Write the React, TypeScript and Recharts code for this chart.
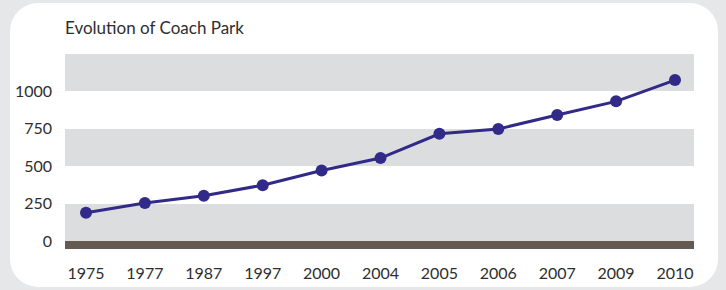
import { LineChart, Line, XAxis, YAxis, CartesianGrid } from "recharts";

const years = ["1975", "1977", "1987", "1997", "2000", "2004", "2005", "2006", "2007", "2009", "2010"];
const coaches = [189, 253, 302, 372, 470, 553, 715, 747, 840, 931, 1073];
const yTicks = [0, 250, 500, 750, 1000];
const baseLine = -53.3; // dark strip under the zero line

// stripes top -> bottom: above plot, 1250-1000, 1000-750, 750-500, 500-250, 250-0, strip below 0
const stripeColors = ["none", "#dcdddf", "none", "#dcdddf", "none", "#dcdddf", "#645a51"];

const data = years.map((year, i) => ({ year, value: coaches[i] }));

const font = "Lato, 'Open Sans', sans-serif";

export default function App() {
  return (
    <div
      style={{
        position: "absolute",
        left: 0,
        top: 0,
        width: 726,
        height: 290,
        background: "#e6e7e9",
        overflow: "hidden",
        fontFamily: font,
      }}
    >
      {/* white card */}
      <div
        style={{
          position: "absolute",
          left: 10,
          top: 3,
          width: 708,
          height: 284,
          background: "#fff",
          borderRadius: 28,
        }}
      />
      <div
        style={{
          position: "absolute",
          left: 65,
          top: 17,
          fontSize: 17,
          color: "#2e2e2e",
        }}
      >
        Evolution of Coach Park
      </div>

      <div style={{ position: "absolute", left: 0, top: 0 }}>
        <LineChart
          width={726}
          height={290}
          data={data}
          margin={{ top: 53.5, right: 32, bottom: 0, left: 0 }}
        >
          <CartesianGrid
            vertical={false}
            stroke="none"
            horizontalFill={stripeColors}
            fillOpacity={1}
          />
          <XAxis
            dataKey="year"
            height={41}
            axisLine={false}
            tickLine={false}
            tickSize={0}
            tickMargin={19}
            padding={{ left: 21, right: 19 }}
            interval={0}
            tick={{ fill: "#2e2e2e", fontSize: 16, fontFamily: font }}
          />
          <YAxis
            width={65}
            domain={[baseLine, 1250]}
            ticks={yTicks}
            axisLine={false}
            tickLine={false}
            tickSize={0}
            tickMargin={13}
            allowDataOverflow
            tick={{ fill: "#2e2e2e", fontSize: 16, fontFamily: font }}
          />
          <Line
            type="linear"
            dataKey="value"
            stroke="#312a88"
            strokeWidth={3}
            dot={{ r: 6, fill: "#312a88", stroke: "none" }}
            isAnimationActive={false}
          />
        </LineChart>
      </div>
    </div>
  );
}
